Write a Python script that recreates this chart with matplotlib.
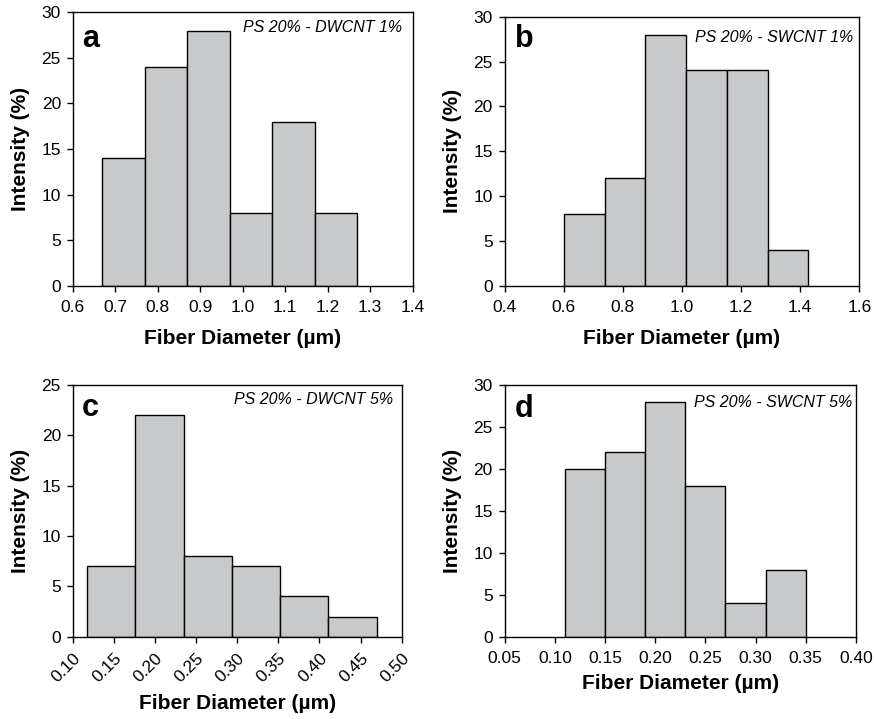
import numpy as np
import matplotlib
matplotlib.use("Agg")
import matplotlib.pyplot as plt
from matplotlib.ticker import FormatStrFormatter

plt.rcParams['font.family'] = ['Liberation Sans', 'DejaVu Sans']

# Histogram bin edges (µm) and intensities (%) for each sample
edges_a = [0.67, 0.77, 0.87, 0.97, 1.07, 1.17, 1.27]
values_a = [14, 24, 28, 8, 18, 8]

edges_b = [0.600, 0.738, 0.876, 1.014, 1.152, 1.290, 1.428]
values_b = [8, 12, 28, 24, 24, 4]

edges_c = [0.117, 0.176, 0.235, 0.294, 0.352, 0.411, 0.470]
values_c = [7, 22, 8, 7, 4, 2]

edges_d = [0.11, 0.15, 0.19, 0.23, 0.27, 0.31, 0.35]
values_d = [20, 22, 28, 18, 4, 8]

labels = ['a', 'b', 'c', 'd']
titles = ['PS 20% - DWCNT 1%', 'PS 20% - SWCNT 1%',
          'PS 20% - DWCNT 5%', 'PS 20% - SWCNT 5%']
xticks = [np.arange(0.6, 1.41, 0.1), np.arange(0.4, 1.61, 0.2),
          np.arange(0.10, 0.501, 0.05), np.arange(0.05, 0.401, 0.05)]
xfmt = ['%.1f', '%.1f', '%.2f', '%.2f']
ylims = [30, 30, 25, 30]

fig = plt.figure(figsize=(8.74, 7.19), dpi=100)
positions = [
    [0.0832, 0.6026, 0.3890, 0.3803],
    [0.5774, 0.6026, 0.4058, 0.3742],
    [0.0832, 0.1145, 0.3764, 0.3500],
    [0.5774, 0.1145, 0.4020, 0.3500],
]
letter_pos = [(0.027, 0.873), (0.030, 0.888), (0.027, 0.877), (0.028, 0.874)]
title_pos = [(0.968, 0.928), (0.982, 0.907), (0.974, 0.923), (0.989, 0.914)]
xlabel_pad = [10, 10, 6, 6]

data = [(edges_a, values_a), (edges_b, values_b),
        (edges_c, values_c), (edges_d, values_d)]

for i, (edges, vals) in enumerate(data):
    ax = fig.add_axes(positions[i])
    e = np.asarray(edges)
    ax.bar(e[:-1], vals, width=np.diff(e), align='edge',
           color='#c8c9cb', edgecolor='black', linewidth=1.0)
    ax.set_xlim(xticks[i][0], xticks[i][-1])
    ax.set_ylim(0, ylims[i])
    ax.set_xticks(xticks[i])
    ax.xaxis.set_major_formatter(FormatStrFormatter(xfmt[i]))
    ax.set_yticks(np.arange(0, ylims[i] + 1, 5))
    ax.tick_params(direction='out', length=4, width=1, labelsize=12.5,
                   colors='black')
    ax.tick_params(axis='x', pad=6)
    ax.tick_params(axis='y', pad=4.5)
    if i == 2:
        plt.setp(ax.get_xticklabels(), rotation=45, ha='right',
                 rotation_mode='anchor')
    for s in ax.spines.values():
        s.set_linewidth(1.0)
        s.set_color('black')
    ax.set_xlabel('Fiber Diameter (µm)', fontsize=15, fontweight='bold',
                  labelpad=xlabel_pad[i])
    ax.set_ylabel('Intensity (%)', fontsize=15, fontweight='bold',
                  labelpad=8)
    ax.text(*letter_pos[i], labels[i], transform=ax.transAxes,
            fontsize=22, fontweight='bold', va='baseline', ha='left')
    ax.text(*title_pos[i], titles[i], transform=ax.transAxes,
            fontsize=11.5, style='italic', va='baseline', ha='right')

fig.savefig('out.png', dpi=100)
